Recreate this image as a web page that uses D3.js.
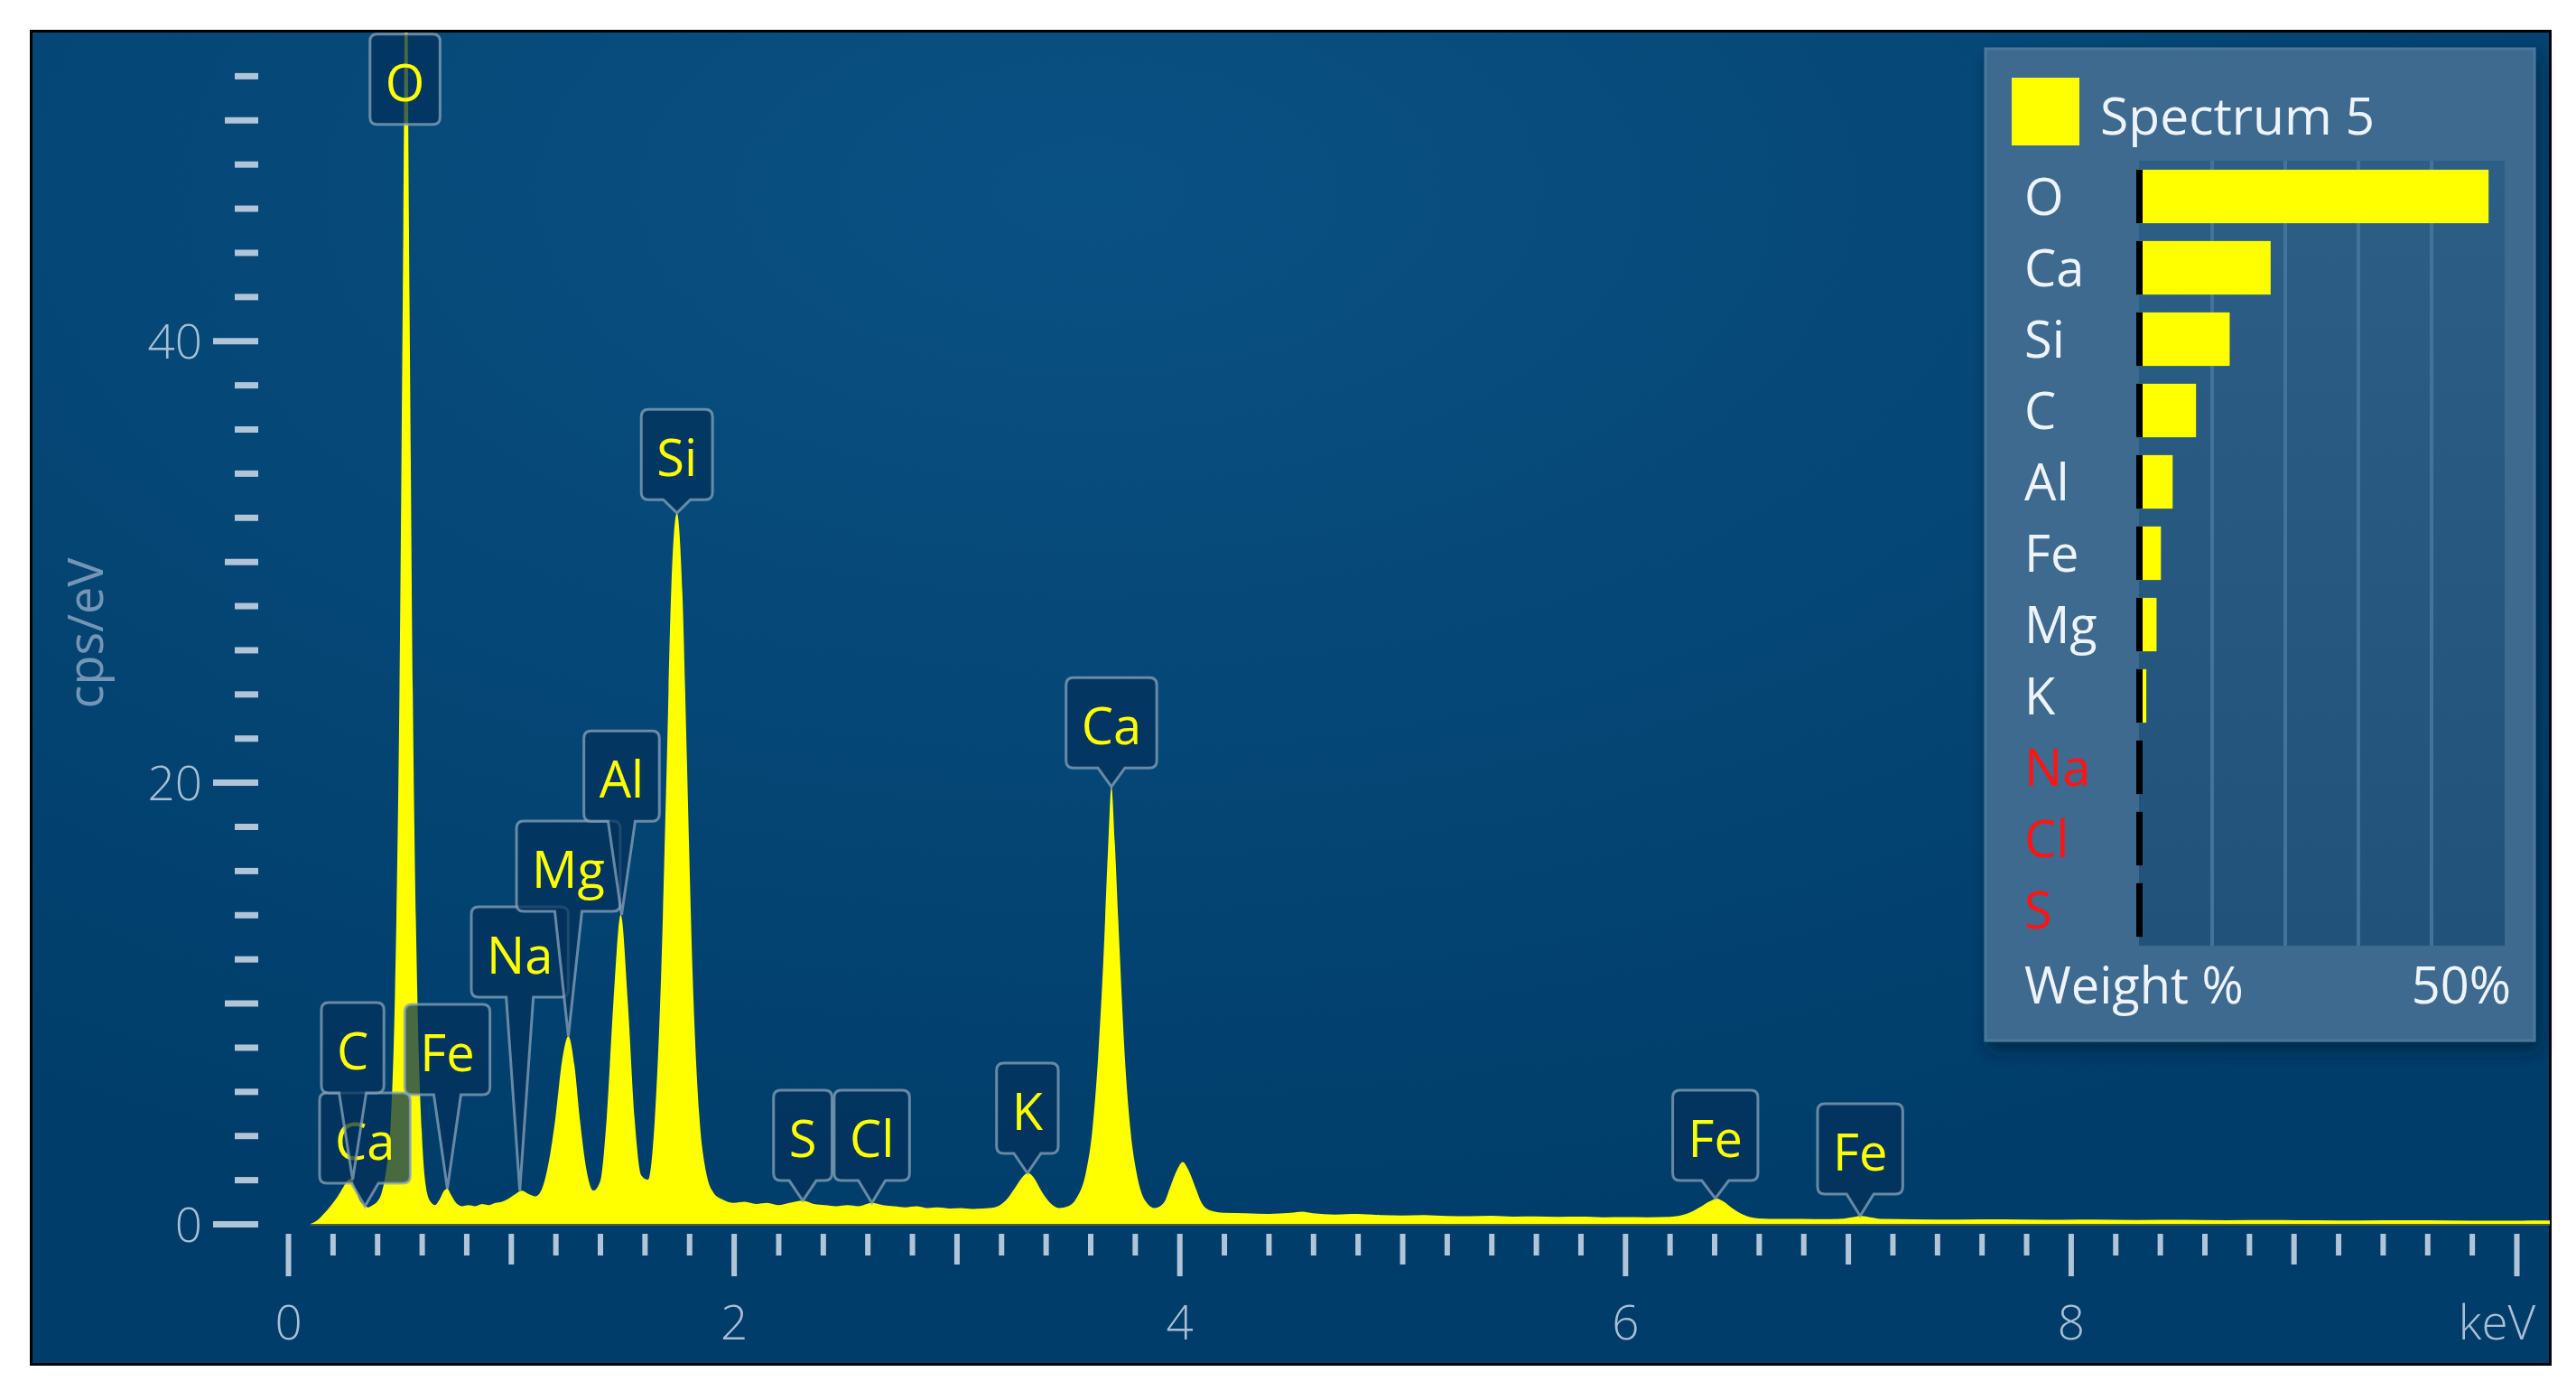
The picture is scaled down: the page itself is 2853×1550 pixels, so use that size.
<!DOCTYPE html>
<html><head><meta charset="utf-8">
<script src="https://cdn.jsdelivr.net/npm/d3@7"></script>
<style>
html,body{margin:0;padding:0;background:#fff;}
svg{display:block;}
text{font-family:"Open Sans","Noto Sans",sans-serif;}
</style></head><body>
<svg id="chart" width="2853" height="1550"></svg>
<script>
// ================= DATA =================
// EDS spectrum (keV, cps/eV)
const spectrumEnergy = [0.10,0.13,0.16,0.19,0.22,0.25,0.27,0.285,0.30,0.32,0.34,0.36,0.38,0.40,0.42,0.44,0.46,0.48,0.50,0.515,0.53,0.545,0.56,0.58,0.60,0.62,0.64,0.66,0.68,0.70,0.715,0.73,0.75,0.78,0.81,0.84,0.87,0.90,0.93,0.96,0.99,1.02,1.05,1.08,1.11,1.14,1.17,1.20,1.23,1.258,1.285,1.31,1.34,1.37,1.40,1.43,1.46,1.493,1.525,1.555,1.585,1.615,1.645,1.675,1.70,1.72,1.745,1.77,1.79,1.815,1.845,1.875,1.91,1.95,2.00,2.05,2.10,2.15,2.20,2.25,2.31,2.36,2.41,2.46,2.51,2.56,2.62,2.67,2.72,2.77,2.82,2.87,2.92,2.97,3.02,3.07,3.12,3.17,3.22,3.26,3.29,3.32,3.35,3.38,3.42,3.46,3.50,3.54,3.58,3.61,3.635,3.66,3.68,3.695,3.71,3.73,3.755,3.78,3.81,3.85,3.89,3.93,3.96,3.99,4.015,4.04,4.07,4.10,4.14,4.20,4.30,4.40,4.50,4.55,4.60,4.70,4.80,4.90,5.00,5.10,5.20,5.30,5.40,5.50,5.60,5.70,5.80,5.90,6.00,6.10,6.20,6.28,6.34,6.38,6.41,6.44,6.48,6.53,6.60,6.70,6.80,6.90,6.98,7.03,7.06,7.10,7.16,7.30,7.50,7.70,7.90,8.10,8.30,8.50,8.70,8.90,9.10,9.30,9.50,9.70,9.90,10.10,10.25];
const spectrumCps = [0,0.15,0.45,0.8,1.2,1.7,2.0,2.05,1.7,1.1,0.85,0.75,0.85,1.0,1.4,2.4,4.4,10.5,24,42,60,42,24,10.5,4.2,1.6,1.0,0.85,1.1,1.5,1.6,1.35,1.0,0.8,0.85,0.8,0.9,0.85,0.95,1.0,1.15,1.35,1.5,1.35,1.25,1.6,2.8,4.8,7.4,8.5,7.2,4.7,2.4,1.5,1.9,4.8,10.0,14.0,10.0,4.8,2.2,2.0,4.6,11.5,21,28.8,32.2,28.5,21,11.5,5.0,2.4,1.4,1.1,0.95,1.0,0.9,0.95,0.85,0.95,1.05,0.9,0.85,0.8,0.85,0.8,0.95,0.85,0.8,0.75,0.8,0.72,0.75,0.7,0.72,0.68,0.7,0.75,1.05,1.6,2.05,2.3,2.05,1.5,0.95,0.72,0.8,1.2,2.3,4.3,7.5,12.2,17.0,19.8,17.3,12.8,7.6,4.3,2.2,1.0,0.72,0.95,1.7,2.45,2.8,2.45,1.7,0.95,0.6,0.5,0.48,0.45,0.5,0.55,0.48,0.42,0.45,0.4,0.38,0.4,0.36,0.35,0.37,0.33,0.34,0.32,0.33,0.3,0.31,0.3,0.32,0.47,0.78,1.02,1.15,1.02,0.72,0.42,0.25,0.22,0.23,0.21,0.24,0.32,0.36,0.3,0.22,0.2,0.19,0.2,0.18,0.19,0.17,0.18,0.16,0.17,0.16,0.15,0.16,0.15,0.14,0.15,0.14];

// axis ticks
const xTickValues = [0,2,4,6,8,10];
const xTickLabels = ["0","2","4","6","8","keV"];
const yTickValues = [0,20,40];
const yAxisLabel = "cps/eV";

// peak identification labels
const peakNames  = ["Ca","C","Fe","O","Na","Mg","Al","Si","S","Cl","K","Ca","Fe","Fe"];
const peakEnergy = [0.345,0.29,0.715,0.525,1.04,1.258,1.497,1.745,2.31,2.62,3.318,3.695,6.405,7.055];
const peakTipCps = [0.8,2.0,1.6,null,1.5,8.5,14.0,32.2,1.05,0.95,2.3,19.8,1.15,0.36];
// label stacking level (cps/eV at bottom of each tag)
const peakLabelLevel = [1.84,5.93,5.85,49.8,10.27,14.15,18.24,32.8,1.96,1.96,3.19,20.65,1.96,1.35];

// quantification legend
const legendTitle = "Spectrum 5";
const elements = ["O","Ca","Si","C","Al","Fe","Mg","K","Na","Cl","S"];
const weightPct = [47.8,18.0,12.4,7.8,4.6,3.0,2.4,1.0,0,0,0];
const notDetected = [false,false,false,false,false,false,false,false,true,true,true];
const weightAxisLabel = "Weight %";
const weightMax = 50;
const weightMaxLabel = "50%";

// ================= DRAW =================
const svg = d3.select("#chart");
const defs = svg.append("defs");
const bg = defs.append("radialGradient").attr("id","bg")
  .attr("cx","42%").attr("cy","12%").attr("r","80%");
bg.append("stop").attr("offset","0%").attr("stop-color","#0a5183");
bg.append("stop").attr("offset","100%").attr("stop-color","#003d6a");
const barbg = defs.append("linearGradient").attr("id","barbg").attr("x1",0).attr("x2",0).attr("y1",0).attr("y2",1);
barbg.append("stop").attr("offset","0%").attr("stop-color","#2d5f86");
barbg.append("stop").attr("offset","100%").attr("stop-color","#215279");
const sh = defs.append("filter").attr("id","shadow").attr("x","-10%").attr("y","-10%").attr("width","130%").attr("height","130%");
sh.append("feDropShadow").attr("dx",4).attr("dy",10).attr("stdDeviation",9).attr("flood-color","#001a33").attr("flood-opacity",0.6);
defs.append("clipPath").attr("id","plotClip").append("rect")
  .attr("x",36).attr("y",36).attr("width",2788).attr("height",1474);

// panel
svg.append("rect").attr("x",34.5).attr("y",34.5).attr("width",2790).attr("height",1476)
  .attr("fill","url(#bg)").attr("stroke","#000").attr("stroke-width",3);

const x = d3.scaleLinear().domain([0,10]).range([319,2787]);
const y = d3.scaleLinear().domain([0,54]).range([1355,35]);

const spectrum = spectrumEnergy.map((e,i)=>[e, spectrumCps[i]]);

const plot = svg.append("g").attr("clip-path","url(#plotClip)");
plot.append("path").datum(spectrum)
  .attr("fill","#ffff00")
  .attr("d", d3.area().x(d=>x(d[0])).y0(y(0)).y1(d=>y(d[1])).curve(d3.curveMonotoneX));
plot.append("line").attr("x1",x(spectrumEnergy[0])).attr("x2",2824)
  .attr("y1",y(0)+1).attr("y2",y(0)+1).attr("stroke","#4d5f3a").attr("stroke-width",2);

// ---- y axis
const tickCol = "#b2c5d8", labCol = "#a9bfd4";
function styleAxis(g, w){
  g.select(".domain").remove();
  g.selectAll(".tick line").attr("stroke",tickCol).attr("stroke-width",w);
  g.selectAll(".tick text").attr("fill",labCol).attr("font-size",53).attr("font-weight",300)
    .attr("font-family",'"Open Sans","Noto Sans",sans-serif');
}
const yMinor = d3.range(0,27).map(i=>i*2).filter(v=>v%10!==0);
const yMid = d3.range(0,27).map(i=>i*2).filter(v=>v%10===0 && v%20!==0);
const yg = svg.append("g").attr("transform","translate(286,0)");
yg.append("g").call(d3.axisLeft(y).tickValues(yMinor).tickSize(26).tickFormat("")).call(g=>styleAxis(g,7));
yg.append("g").call(d3.axisLeft(y).tickValues(yMid).tickSize(37).tickFormat("")).call(g=>styleAxis(g,7));
yg.append("g").call(d3.axisLeft(y).tickValues(yTickValues).tickSize(50).tickPadding(12).tickFormat(d3.format("d")))
  .call(g=>styleAxis(g,7))
  .call(g=>g.selectAll(".tick text").attr("dy","0.36em"));

svg.append("text").attr("transform","translate(93,701) rotate(-90)")
  .attr("text-anchor","middle").attr("dominant-baseline","central")
  .attr("font-size",54).attr("fill","#7595b6").text(yAxisLabel);

// ---- x axis
const xMinor = d3.range(0,51).filter(i=>i%5!==0).map(i=>i/5);
const xOdd = d3.range(0,11).filter(v=>v%2===1);
const xg = svg.append("g").attr("transform","translate(0,1366)");
xg.append("g").call(d3.axisBottom(x).tickValues(xMinor).tickSize(24).tickFormat("")).call(g=>styleAxis(g,6));
xg.append("g").call(d3.axisBottom(x).tickValues(xOdd).tickSize(34).tickFormat("")).call(g=>styleAxis(g,6));
xg.append("g").call(d3.axisBottom(x).tickValues(xTickValues).tickSize(47).tickFormat((d,i)=>xTickLabels[i]))
  .call(g=>styleAxis(g,6))
  .call(g=>g.selectAll(".tick text").attr("y",117).attr("dy",null)
     .attr("x",(d,i)=> i===xTickValues.length-1 ? -22 : 0));

// ---- peak tags
const tagH = 100, tagR = 8, hw = 15, tagFS = 56;
const tags = svg.append("g");
peakNames.forEach((name,i)=>{
  const g = tags.append("g");
  const cx = x(peakEnergy[i]);
  const yb = y(peakLabelLevel[i]);
  const yt = yb - tagH;
  const t = g.append("text").attr("x",cx).attr("y",yt+74).attr("text-anchor","middle")
    .attr("font-size",tagFS).attr("fill","#ffff00").text(name);
  const tw = t.node().getComputedTextLength();
  const x0 = cx - tw/2 - 17, x1 = cx + tw/2 + 17;
  let d = `M${x0+tagR},${yt}H${x1-tagR}Q${x1},${yt} ${x1},${yt+tagR}V${yb-tagR}Q${x1},${yb} ${x1-tagR},${yb}`;
  if (peakTipCps[i] !== null) {
    d += `H${cx+hw}L${cx},${y(peakTipCps[i])}L${cx-hw},${yb}`;
  }
  d += `H${x0+tagR}Q${x0},${yb} ${x0},${yb-tagR}V${yt+tagR}Q${x0},${yt} ${x0+tagR},${yt}Z`;
  g.insert("path","text").attr("d",d)
    .attr("fill","#03305a").attr("fill-opacity",0.72)
    .attr("stroke","#8aa4bb").attr("stroke-opacity",0.75).attr("stroke-width",3);
});

// ---- legend
const L = svg.append("g");
L.append("rect").attr("x",2199).attr("y",54).attr("width",608).attr("height",1098)
  .attr("fill","#3c6a8e").attr("stroke","#4a789b").attr("stroke-width",3).attr("filter","url(#shadow)");
L.append("rect").attr("x",2228).attr("y",86).attr("width",75).attr("height",75).attr("fill","#ffff00");
L.append("text").attr("x",2326).attr("y",149).attr("font-size",57).attr("fill","#eef3f8").text(legendTitle);

const w = d3.scaleLinear().domain([0,weightMax]).range([2369,2774]);
const band = d3.scaleBand().domain(elements).range([178,1047]).paddingInner(0.25).paddingOuter(0.125);
L.append("rect").attr("x",w(0)).attr("y",178).attr("width",w(weightMax)-w(0)).attr("height",869).attr("fill","url(#barbg)");
L.selectAll(".grid").data(d3.range(10,weightMax,10)).join("line")
  .attr("x1",d=>w(d)).attr("x2",d=>w(d)).attr("y1",178).attr("y2",1047)
  .attr("stroke","#43739a").attr("stroke-width",4);
L.selectAll(".bar").data(elements).join("rect")
  .attr("x",w(0)).attr("y",d=>band(d)).attr("height",band.bandwidth())
  .attr("width",(d,i)=>w(weightPct[i])-w(0)).attr("fill","#ffff00");
L.selectAll(".base").data(elements).join("rect")
  .attr("x",w(0)-3).attr("y",d=>band(d)).attr("height",band.bandwidth()).attr("width",7).attr("fill","#000");
L.selectAll(".lab").data(elements).join("text")
  .attr("x",2242).attr("y",d=>band(d)+band.bandwidth()/2).attr("dy","0.36em")
  .attr("font-size",56).attr("fill",(d,i)=>notDetected[i] ? "#ff1414" : "#eef3f8").text(d=>d);
L.append("text").attr("x",2242).attr("y",1111).attr("font-size",56).attr("fill","#eef3f8").text(weightAxisLabel);
L.append("text").attr("x",2781).attr("y",1111).attr("text-anchor","end").attr("font-size",56).attr("fill","#eef3f8").text(weightMaxLabel);
</script>
</body></html>
